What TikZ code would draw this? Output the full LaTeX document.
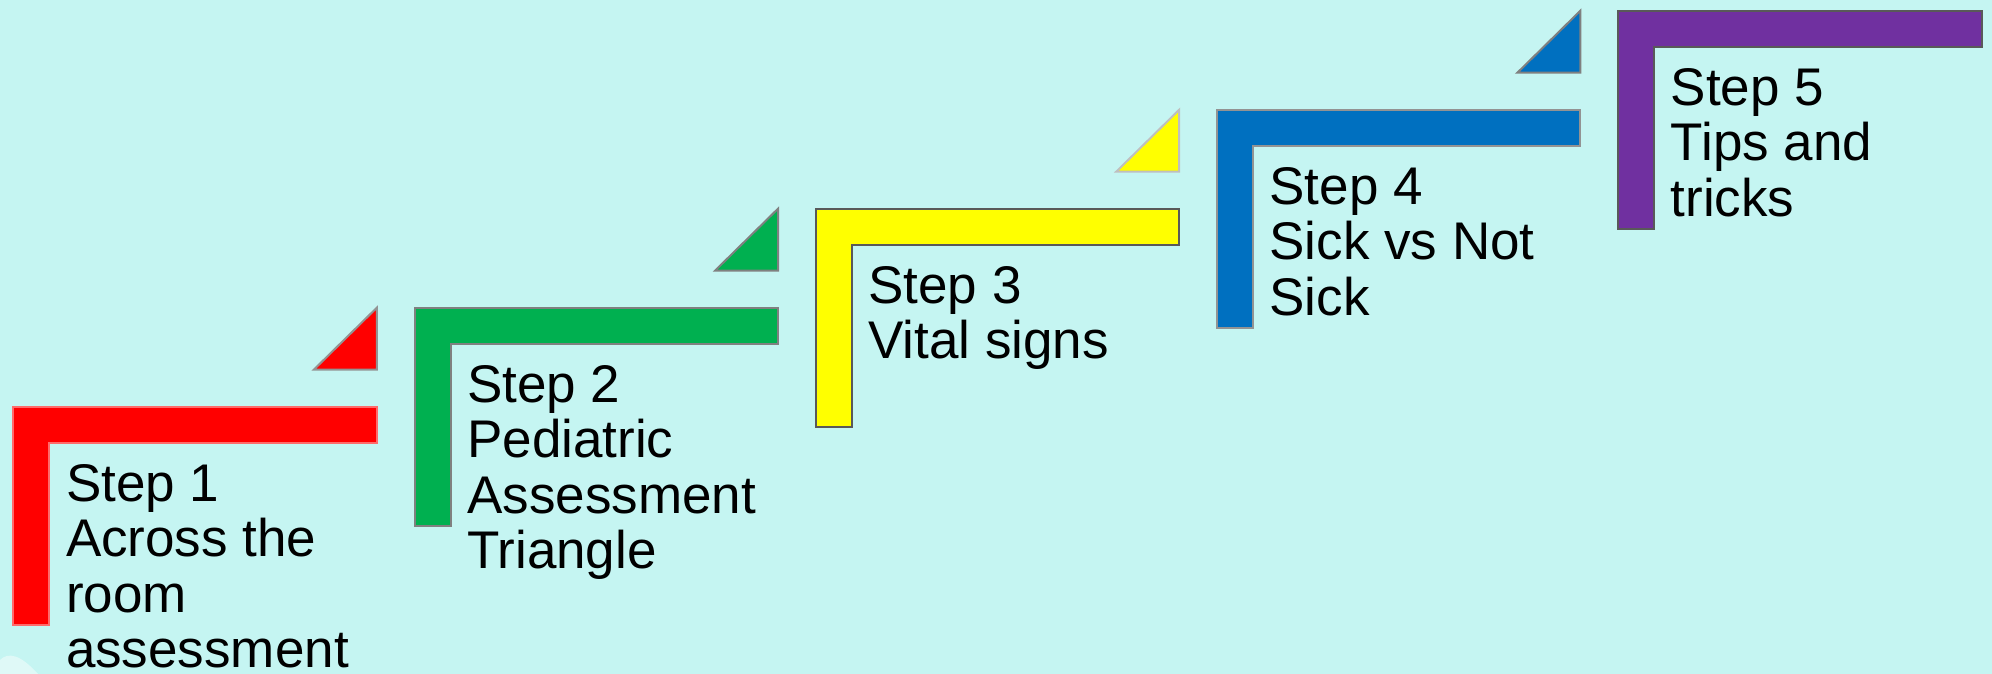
\documentclass[tikz,border=0pt]{standalone}
\usepackage{fontspec}
\setmainfont{Liberation Sans}
\usetikzlibrary{positioning}

\definecolor{bgcyan}{HTML}{C5F5F2}
\definecolor{stepred}{HTML}{FF0000}
\definecolor{stepgreen}{HTML}{00B050}
\definecolor{stepyellow}{HTML}{FFFF00}
\definecolor{stepblue}{HTML}{0070C0}
\definecolor{steppurple}{HTML}{7030A0}
\definecolor{edgered}{HTML}{FF6A6A}
\definecolor{edgegray}{HTML}{808080}
\definecolor{edgedark}{HTML}{595959}
\definecolor{edgelight}{HTML}{BFBFBF}
\definecolor{edgemid}{HTML}{939393}

\tikzset{
  bracket/.style={line width=2pt, line join=miter},
  flag/.style={line width=2pt, line join=miter},
  steptext/.style={anchor=north west, align=left, inner sep=0pt,
    font=\fontsize{53}{55.3}\selectfont}
}

\begin{document}
\begin{tikzpicture}[x=1pt,y=-1pt]
  \useasboundingbox (0,0) rectangle (1992,674);
  \clip (0,0) rectangle (1992,674);
  \fill[bgcyan] (0,0) rectangle (1992,674);
  % soft light patch in the lower left corner
  \fill[white, opacity=0.45] (0,674) -- (0,660) .. controls (8,652) and (20,654) .. (38,674) -- cycle;

  % five steps, each one up and to the right of the one before
  \foreach \i/\fc/\lc/\tc/\txt in {
      0/stepred/edgered/edgemid/{Step 1\\Across the\\room\\assessment},
      1/stepgreen/edgegray/edgegray/{Step 2\\Pediatric\\Assessment\\Triangle},
      2/stepyellow/edgedark/edgelight/{Step 3\\Vital signs},
      3/stepblue/edgemid/edgegray/{Step 4\\Sick vs Not\\Sick},
      4/steppurple/edgedark/edgegray/{Step 5\\Tips and\\tricks}}{
    \pgfmathsetmacro{\xl}{13.3+401.2*\i}
    \pgfmathsetmacro{\yt}{406.7-99*\i}
    \pgfmathsetmacro{\xr}{\xl+363.5}
    \pgfmathsetmacro{\xi}{\xl+36}
    \pgfmathsetmacro{\yi}{\yt+36}
    \pgfmathsetmacro{\yb}{\yt+218}
    % the L-shaped bar
    \filldraw[bracket, fill=\fc, draw=\lc]
      (\xl,\yb) -- (\xl,\yt) -- (\xr,\yt) -- (\xr,\yi) -- (\xi,\yi) -- (\xi,\yb) -- cycle;
    % the small corner triangle above it
    \filldraw[flag, fill=\fc, draw=\tc]
      (\xr,\yt-99) -- (\xr,\yt-37) -- (\xr-63,\yt-37) -- cycle;
    \node[steptext] (step\i) at (\xl+52.5,\yt+57.5) {\txt};
  }
\end{tikzpicture}
\end{document}
